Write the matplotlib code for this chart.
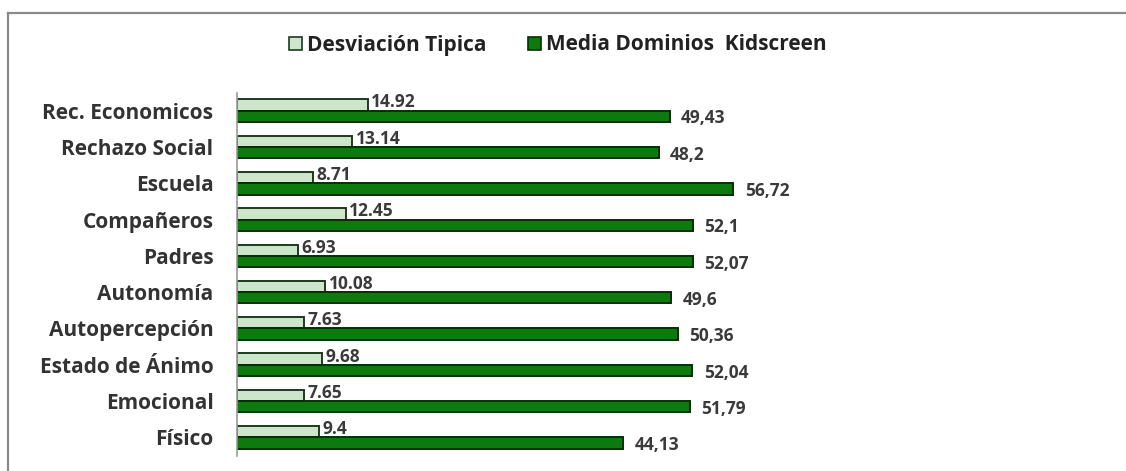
import matplotlib
matplotlib.use("Agg")
import matplotlib.pyplot as plt
from matplotlib.lines import Line2D
from matplotlib.patches import Patch

categories = ["Físico", "Emocional", "Estado de Ánimo", "Autopercepción", "Autonomía",
              "Padres", "Compañeros", "Escuela", "Rechazo Social", "Rec. Economicos"]
desviacion = [9.4, 7.65, 9.68, 7.63, 10.08, 6.93, 12.45, 8.71, 13.14, 14.92]
media = [44.13, 51.79, 52.04, 50.36, 49.6, 52.07, 52.1, 56.72, 48.2, 49.43]
desv_labels = ["9.4", "7.65", "9.68", "7.63", "10.08", "6.93", "12.45", "8.71", "13.14", "14.92"]
media_labels = ["44,13", "51,79", "52,04", "50,36", "49,6", "52,07", "52,1", "56,72", "48,2", "49,43"]

plt.rcParams["font.family"] = ["Open Sans", "DejaVu Sans"]

W, H = 1126, 471
fig = plt.figure(figsize=(W / 100, H / 100), dpi=100)

# outer frame (top and left edges only visible)
fig.add_artist(Line2D([8 / W, 1], [1 - 13 / H, 1 - 13 / H], color="#8a8a8a", lw=1.6))
fig.add_artist(Line2D([8 / W, 8 / W], [0, 1 - 13 / H], color="#8a8a8a", lw=1.6))

ax = fig.add_axes([237 / W, 15.5 / H, 889 / W, 363 / H])
px_per_unit = 8.75
ax.set_xlim(0, 889 / px_per_unit)
ax.set_ylim(-0.5, 9.5)

y = list(range(len(categories)))
bh = 0.31
light_c, light_e = "#cde6cb", "#1d3a1d"
dark_c, dark_e = "#0c7a0c", "#023002"
ax.barh([v + bh / 2 for v in y], desviacion, height=bh, color=light_c,
        edgecolor=light_e, lw=1.4)
ax.barh([v - bh / 2 for v in y], media, height=bh, color=dark_c,
        edgecolor=dark_e, lw=1.4)

for yi, d, m, dl, ml in zip(y, desviacion, media, desv_labels, media_labels):
    ax.text(d + 0.4, yi + bh / 2 + 0.07, dl, va="center", ha="left",
            fontsize=12.5, fontweight="bold", color="#3a3a3a")
    ax.text(m + 1.3, yi - bh / 2 - 0.06, ml, va="center", ha="left",
            fontsize=12.5, fontweight="bold", color="#3a3a3a")

ax.set_yticks(y)
ax.set_yticklabels(categories, fontsize=15, fontweight="bold", color="#333333")
ax.tick_params(axis="y", length=0, pad=17)
ax.set_xticks([])
for s in ["top", "right", "bottom"]:
    ax.spines[s].set_visible(False)
ax.spines["left"].set_color("#9a9a9a")
ax.spines["left"].set_linewidth(1.2)

handles = [Patch(facecolor=light_c, edgecolor=light_e, lw=1.2),
           Patch(facecolor=dark_c, edgecolor=dark_e, lw=1.2)]
fig.legend(handles, ["Desviación Tipica", "Media Dominios  Kidscreen"],
           loc="center", bbox_to_anchor=(558 / W, 1 - 45 / H), ncol=2,
           frameon=False, handlelength=0.6, handleheight=0.6, handletextpad=0.25,
           columnspacing=2.0, prop={"size": 15, "weight": "bold"},
           labelcolor="#222222")

fig.savefig("out.png", dpi=100)
